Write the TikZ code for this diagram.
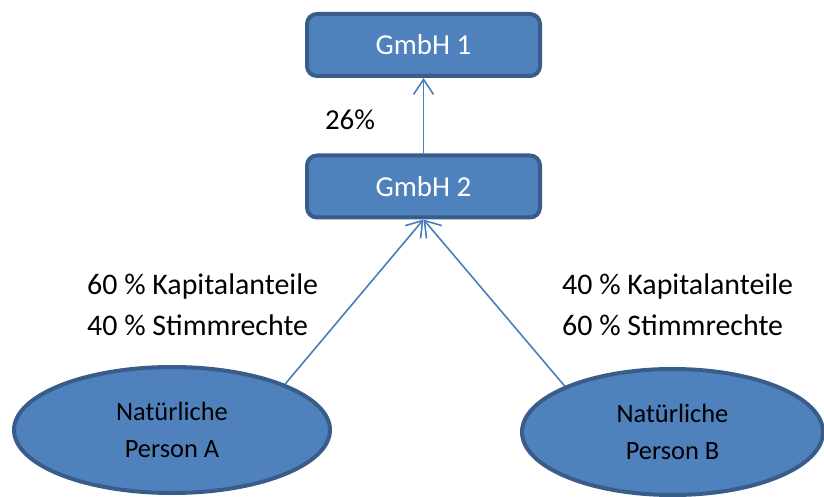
\documentclass[tikz,border=0pt]{standalone}
\usepackage{fontspec}
\setmainfont{Carlito}
\usetikzlibrary{arrows.meta,shapes.geometric}
\definecolor{boxfill}{RGB}{79,129,189}
\definecolor{boxline}{RGB}{56,93,138}
\definecolor{arrline}{RGB}{74,126,187}
\tikzset{
    firm/.style={draw=boxline, fill=boxfill, line width=4bp, rounded corners=10bp,
        minimum width=233bp, minimum height=62bp, text=white,
        font=\fontsize{29}{34}\selectfont},
    person/.style={ellipse, draw=boxline, fill=boxfill, line width=4bp, inner sep=0pt,
        align=center, font=\fontsize{26.5}{37}\selectfont},
    share/.style={-{Straight Barb[length=15bp,width=20bp]}, draw=arrline, line width=1.6bp},
    pct/.style={inner sep=0pt, font=\fontsize{30}{41}\selectfont}
}

\begin{document}
\begin{tikzpicture}[x=1bp, y=-1bp]
    \useasboundingbox(0, 0) rectangle (824, 497);
    \node[firm](g1)at(423.5, 45){GmbH 1};			%top
    \node[firm](g2)at(423.5, 186.5){GmbH 2};
    \node[person, minimum width=316bp, minimum height=126bp](pa)at(172, 430){Natürliche\\Person A};
    \node[person, minimum width=301bp, minimum height=126bp](pb)at(672.5, 432){Natürliche\\Person B};
    \draw[share](g2.north)--(g1.south);
    \draw[share](pa.north east)--(g2.south);
    \draw[share](pb.north west)--(g2.south);
    \node[pct, font=\fontsize{29}{34}\selectfont](p26)at(350, 120){26\%};
    \node[pct, align=left, anchor=west](pla)at(87, 305){60 \% Kapitalanteile\\40 \% Stimmrechte};
    \node[pct, align=left, anchor=west](plb)at(562, 305){40 \% Kapitalanteile\\60 \% Stimmrechte};
\end{tikzpicture}
\end{document}
